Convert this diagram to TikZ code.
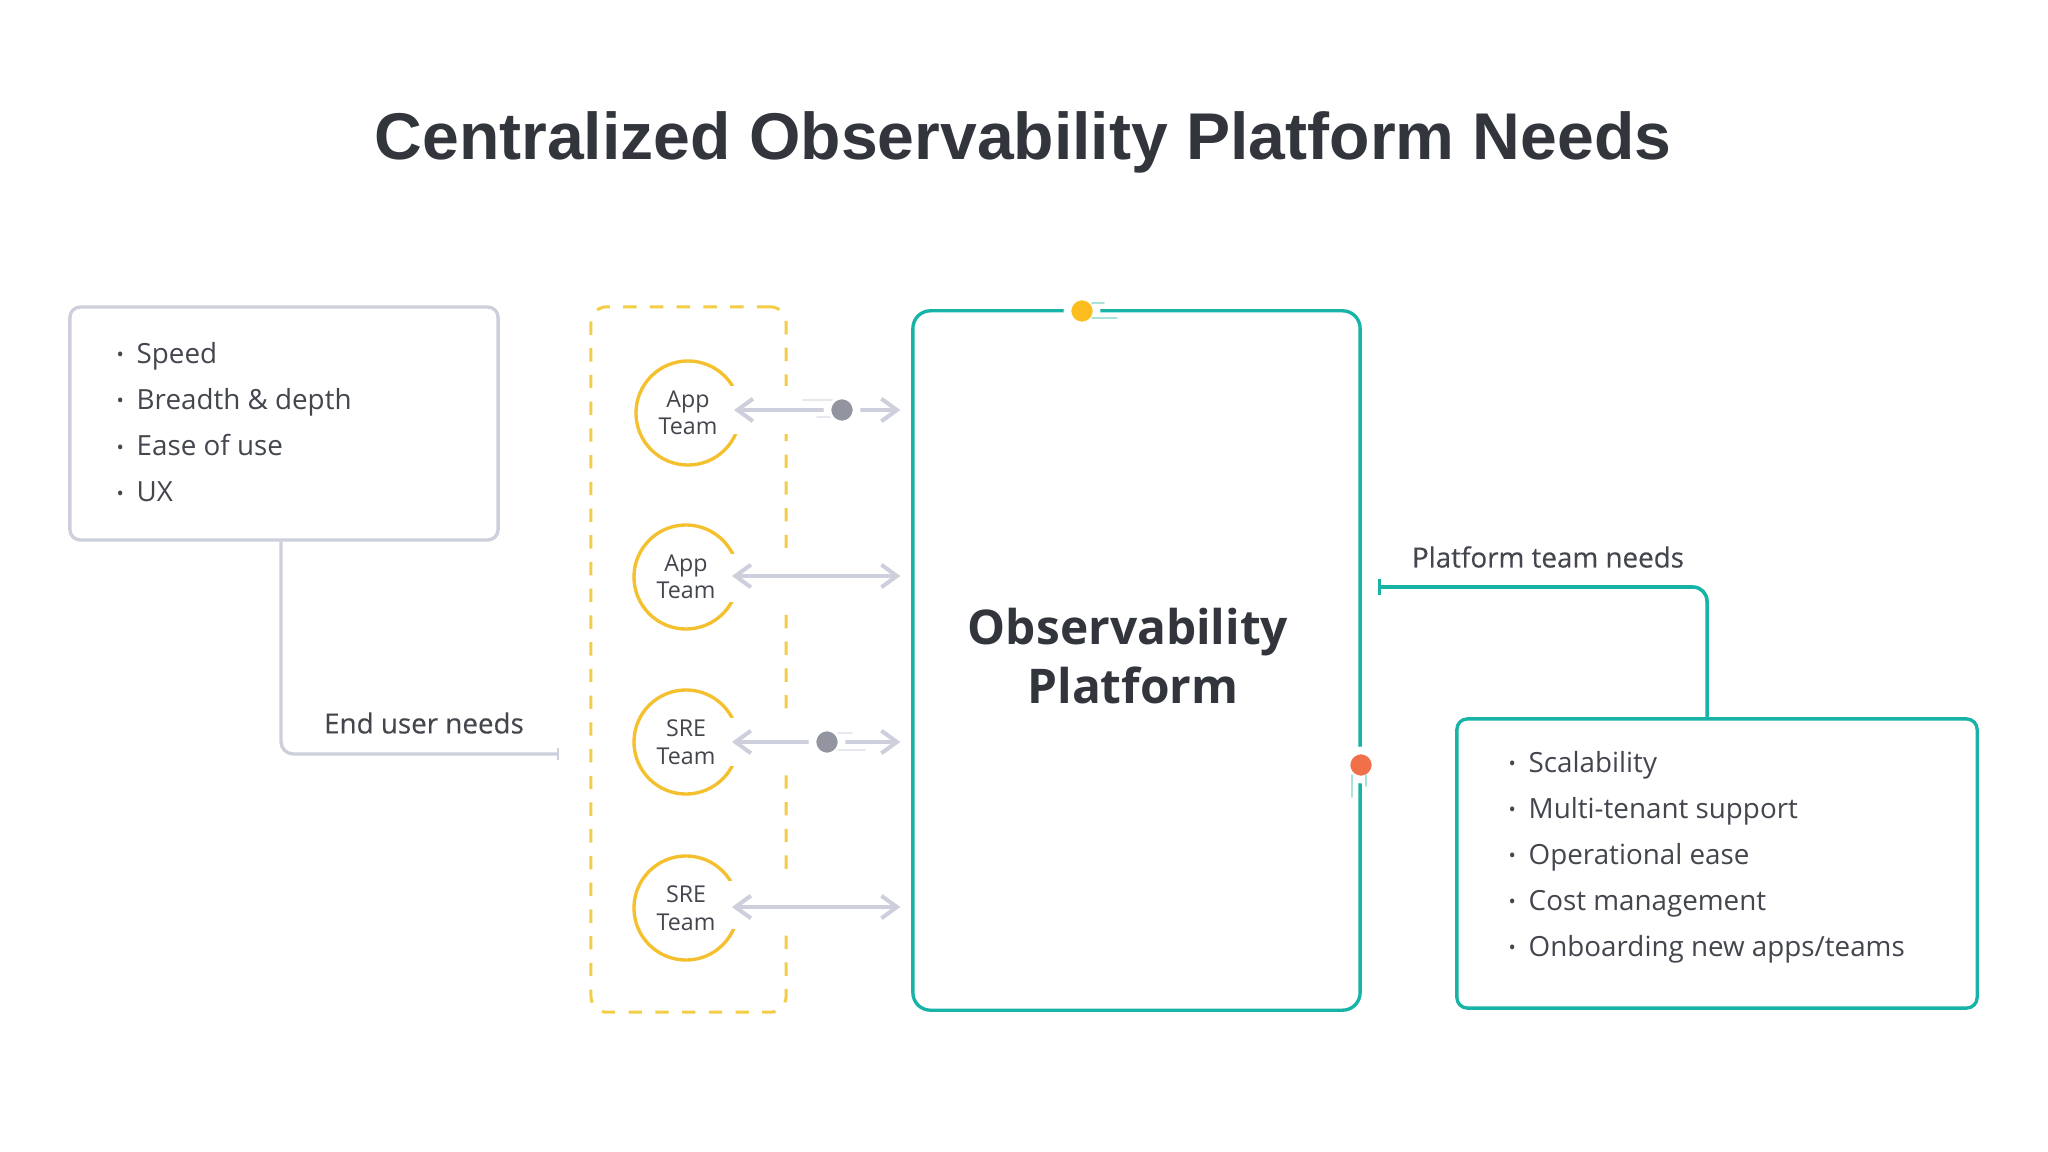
\documentclass[tikz,border=0pt]{standalone}
\usepackage{fontspec}
\usepackage{amsmath}
\usepackage{tikz}
\usetikzlibrary{arrows.meta}
\setmainfont{Open Sans}
\newfontfamily\titlefont{Liberation Sans}
\newfontfamily\labelfont[FakeBold=0.25]{Open Sans}

\definecolor{inkdark}{HTML}{33353D}
\definecolor{inktext}{HTML}{44464E}
\definecolor{tealline}{HTML}{17B3A6}
\definecolor{tealpale}{HTML}{A9E2DA}
\definecolor{greyline}{HTML}{CDD0DC}
\definecolor{greypale}{HTML}{E6E8EE}
\definecolor{greydot}{HTML}{92959F}
\definecolor{yellowline}{HTML}{F4C02E}
\definecolor{yellowdash}{HTML}{F2CD45}
\definecolor{orangedot}{HTML}{F0704A}
\definecolor{amberdot}{HTML}{FBBE1E}

\newcommand{\listdot}{\makebox[0.2cm][l]{\raisebox{0.4pt}{\scalebox{0.7}{\textbullet}}}}

\tikzset{
	needsbox/.style={shape=rectangle,rounded corners=3pt,line width=0.95pt,inner sep=0pt},
	needslist/.style={anchor=west,align=left,inner sep=0pt,text=inktext,font=\fontsize{7.9}{13.1}\selectfont},
	needslabel/.style={inner sep=0pt,text=inktext,font=\labelfont\fontsize{7.9}{10}\selectfont},
	teamnode/.style={shape=circle,draw=yellowline,line width=0.95pt,minimum size=1.04cm,inner sep=0pt,align=center,text=inktext,font=\fontsize{6.6}{7.8}\selectfont},
	gapbox/.style={shape=rectangle,fill=white,minimum width=0.76cm,minimum height=0.47cm,inner sep=0pt},
	link/.style={line width=1.15pt,draw=greyline,line cap=round,{Straight Barb[length=4.4pt,width=6.4pt]}-{Straight Barb[length=4.4pt,width=6.4pt]},shorten >=3.1pt,shorten <=-2.2pt},
	flowdot/.style={shape=circle,draw=white,line width=2.2pt,minimum size=0.29cm,inner sep=0pt},
	streak/.style={line width=0.5pt,line cap=round},
}

\begin{document}
\begin{tikzpicture}[x=0.01cm,y=-0.01cm]
	
	\useasboundingbox[fill=white] (0,0) rectangle (2048,1152);
	
	\node[text=inkdark,inner sep=0pt,font=\titlefont\bfseries\fontsize{18.8}{22}\selectfont] (title) at (1023,142) {Centralized Observability Platform Needs};
	
	% boxes
	\node[needsbox,draw=greyline,minimum width=4.28cm,minimum height=2.33cm] (userbox) at (284,423.5) {};
	\node[needsbox,draw=yellowdash,dashed,dash pattern=on 3.8pt off 3.8pt,line width=0.85pt,rounded corners=4.5pt,minimum width=1.95cm,minimum height=7.05cm] (teambox) at (688.5,659.5) {};
	\node[needsbox,draw=tealline,rounded corners=5pt,minimum width=4.47cm,minimum height=6.99cm] (platform) at (1136.5,660.5) {};
	\node[needsbox,draw=tealline,minimum width=5.20cm,minimum height=2.89cm] (platbox) at (1717,863.5) {};
	
	\node[needslist] (userlist) at (116,422) {\listdot Speed\\\listdot Breadth \& depth\\\listdot Ease of use\\\listdot UX};
	\node[needslist] (platlist) at (1508,857) {\listdot Scalability\\\listdot Multi-tenant support\\\listdot Operational ease\\\listdot Cost management\\\listdot Onboarding new apps/teams};
	\node[inner sep=0pt,align=center,text=inkdark,font=\bfseries\fontsize{13.6}{16.8}\selectfont] (platname) at (1133,656) {Observability\hspace*{0.1cm}\\Platform};
	
	% teams
	\node[teamnode] (app1) at (688,413) {App\\Team};
	\node[teamnode] (app2) at (686,577) {App\\Team};
	\node[teamnode] (sre1) at (686,742) {SRE\\Team};
	\node[teamnode] (sre2) at (686,908) {SRE\\Team};
	
	\node[gapbox] (gap1) at (762,410) {};
	\node[gapbox] (gap2) at (762,578) {};
	\node[gapbox] (gap3) at (762,742) {};
	\node[gapbox] (gap4) at (762,905) {};
	
	\coordinate (arrow1) at ([shift={(0,-3)}]app1.east);
	\coordinate (arrow2) at ([shift={(0,-1)}]app2.east);
	\coordinate (arrow3) at (sre1.east);
	\coordinate (arrow4) at ([shift={(0,-1)}]sre2.east);
	
	\draw[link] (arrow1) -- (arrow1 -| platform.west);
	\draw[link] (arrow2) -- (arrow2 -| platform.west);
	\draw[link] (arrow3) -- (arrow3 -| platform.west);
	\draw[link] (arrow4) -- (arrow4 -| platform.west);
	
	% moving dots
	\node[flowdot,fill=greydot] (dot1) at (842,410) {};
	\node[flowdot,fill=greydot] (dot2) at (827,742) {};
	\node[flowdot,fill=amberdot] (dot3) at (1082,311) {};
	\node[flowdot,fill=orangedot] (dot4) at (1361,765) {};
	
	\draw[streak,draw=greypale] ([shift={(-39,-10)}]dot1.center) -- ++(29,0);
	\draw[streak,draw=greypale] ([shift={(-25,7)}]dot1.center) -- ++(13,0);
	\draw[streak,draw=greypale] ([shift={(11,-9)}]dot2.center) -- ++(14,0);
	\draw[streak,draw=greypale] ([shift={(11,8)}]dot2.center) -- ++(27,0);
	\draw[streak,draw=tealpale] ([shift={(10,-8)}]dot3.center) -- ++(12,0);
	\draw[streak,draw=tealpale] ([shift={(10,7)}]dot3.center) -- ++(25,0);
	\draw[streak,draw=tealpale] ([shift={(-9,10)}]dot4.center) -- ++(0,22);
	\draw[streak,draw=tealpale] ([shift={(5,10)}]dot4.center) -- ++(0,11);
	
	% needs
	\coordinate (userend) at (559,754);
	\coordinate (platend) at (1378,587);
	
	\draw[draw=greyline,line width=0.95pt,rounded corners=3.5pt,-{Bar[width=3.6pt,line width=0.7pt]}] ([shift={(-3,0)}]userbox.south) |- (userend);
	\draw[draw=tealline,line width=1pt,rounded corners=4pt,-{Bar[width=4.6pt,line width=0.9pt]}] ([shift={(-10,0)}]platbox.north) |- (platend);
	
	\node[needslabel] (userlabel) at (424,723) {End user needs};
	\node[needslabel] (platlabel) at (1548,557) {Platform team needs};
	
\end{tikzpicture}
\end{document}
